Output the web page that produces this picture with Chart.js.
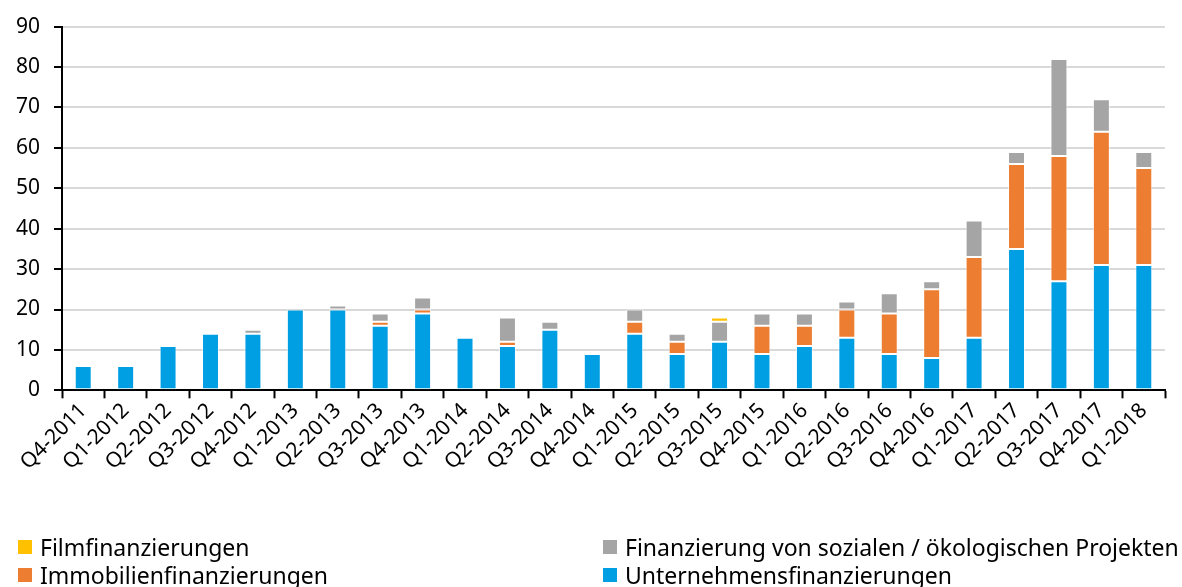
<!DOCTYPE html>
<html>
<head>
<meta charset="utf-8">
<script src="https://cdn.jsdelivr.net/npm/chart.js@4"></script>
<style>
body { margin: 0; background: #fff; }
#wrap { position: relative; width: 1182px; height: 587px; }
#legende { position: absolute; left: 0; top: 0; width: 1182px; height: 587px; pointer-events: none; }
.item { position: absolute; display: flex; align-items: center; font-family: "Noto Sans", sans-serif; font-size: 23px; color: #000; white-space: nowrap; height: 28px; }
.carre { width: 14px; height: 14px; margin-right: 8px; }
</style>
</head>
<body>
<div id="wrap">
  <canvas id="graphe" width="1182" height="587"></canvas>
  <div id="legende"></div>
</div>
<script>
//trimestres
var quartale = ["Q4-2011", "Q1-2012", "Q2-2012", "Q3-2012", "Q4-2012", "Q1-2013", "Q2-2013", "Q3-2013", "Q4-2013",
  "Q1-2014", "Q2-2014", "Q3-2014", "Q4-2014", "Q1-2015", "Q2-2015", "Q3-2015", "Q4-2015",
  "Q1-2016", "Q2-2016", "Q3-2016", "Q4-2016", "Q1-2017", "Q2-2017", "Q3-2017", "Q4-2017", "Q1-2018"];

//valeurs par type de financement
var unternehmen = [6, 6, 11, 14, 14, 20, 20, 16, 19, 13, 11, 15, 9, 14, 9, 12, 9, 11, 13, 9, 8, 13, 35, 27, 31, 31];
var immobilien  = [0, 0, 0, 0, 0, 0, 0, 1, 1, 0, 1, 0, 0, 3, 3, 0, 7, 5, 7, 10, 17, 20, 21, 31, 33, 24];
var sozial      = [0, 0, 0, 0, 1, 0, 1, 2, 3, 0, 6, 2, 0, 3, 2, 5, 3, 3, 2, 5, 2, 9, 3, 24, 8, 4];
var film        = [0, 0, 0, 0, 0, 0, 0, 0, 0, 0, 0, 0, 0, 0, 0, 1, 0, 0, 0, 0, 0, 0, 0, 0, 0, 0];

//graduations axe y
var yMin = 0;
var yMax = 90;
var yPas = 10;

var police = '"Noto Sans", sans-serif';

function serie(nom, valeurs, couleur) {
  return {
    label: nom,
    data: valeurs,
    backgroundColor: couleur,
    borderColor: 'rgba(255,255,255,0.7)',
    borderWidth: 1,
    borderSkipped: false,
    categoryPercentage: 1,
    barPercentage: 0.4
  };
}

var ctx = document.getElementById("graphe").getContext('2d');
var chart = new Chart(ctx, {
  type: 'bar',
  data: {
    labels: quartale,
    datasets: [
      serie("Unternehmensfinanzierungen", unternehmen, "#009FE3"),
      serie("Immobilienfinanzierungen", immobilien, "#ED7D31"),
      serie("Finanzierung von sozialen / ökologischen Projekten", sozial, "#A5A5A5"),
      serie("Filmfinanzierungen", film, "#FFC000")
    ]
  },
  options: {
    responsive: false,
    animation: false,
    layout: { padding: { top: 6, left: 2, right: 17, bottom: 112 } },
    plugins: {
      legend: { display: false },
      tooltip: { enabled: false }
    },
    scales: {
      x: {
        stacked: true,
        grid: { drawOnChartArea: false, drawTicks: true, tickLength: 8, tickColor: '#000', tickWidth: 2, offset: true },
        border: { color: '#000', width: 2 },
        ticks: { color: '#000', font: { family: police, size: 21 }, minRotation: 45, maxRotation: 45, padding: 0, autoSkip: false }
      },
      y: {
        stacked: true,
        min: yMin,
        max: yMax,
        grid: { color: '#D9D9D9', lineWidth: 2, tickLength: 8, tickColor: '#000', tickWidth: 2 },
        border: { color: '#000', width: 2 },
        ticks: { stepSize: yPas, color: '#000', font: { family: police, size: 21 }, padding: 14 }
      }
    }
  }
});

//legende en deux colonnes
var ordre = [
  { ds: 3, x: 18, y: 533 },
  { ds: 2, x: 603, y: 533 },
  { ds: 1, x: 18, y: 561 },
  { ds: 0, x: 603, y: 561 }
];
var legende = document.getElementById('legende');
ordre.forEach(function(o) {
  var ds = chart.data.datasets[o.ds];
  var item = document.createElement('div');
  item.className = 'item';
  item.style.left = o.x + 'px';
  item.style.top = o.y + 'px';
  var carre = document.createElement('span');
  carre.className = 'carre';
  carre.style.background = ds.backgroundColor;
  item.appendChild(carre);
  item.appendChild(document.createTextNode(ds.label));
  legende.appendChild(item);
});
</script>
</body>
</html>
